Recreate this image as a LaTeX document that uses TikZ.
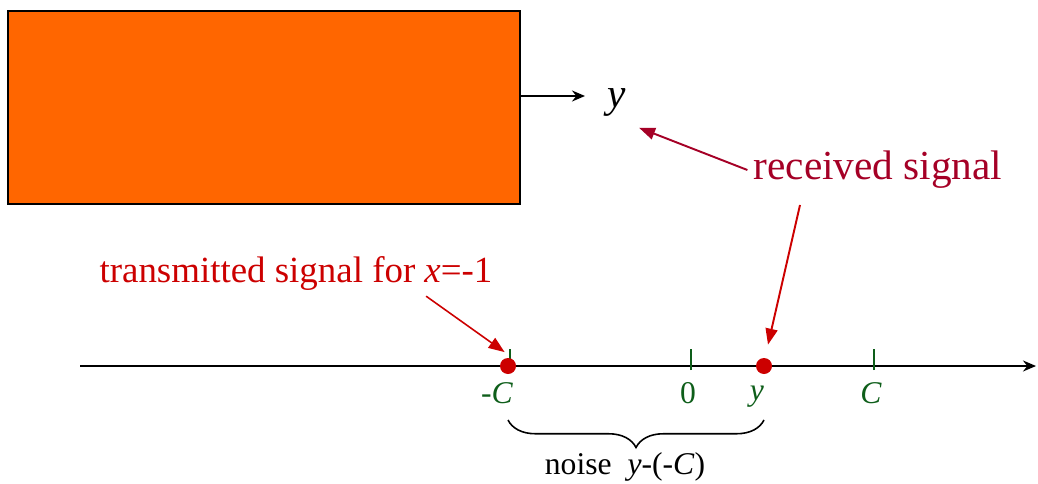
\documentclass[tikz,border=0pt]{standalone}
\usepackage{fontspec}
\setmainfont{Liberation Serif}
\usepackage{tikz}
\usetikzlibrary{arrows.meta,positioning,decorations.pathreplacing,calc}
\definecolor{chanorange}{HTML}{FF6600}
\definecolor{sentred}{HTML}{CC0000}
\definecolor{recvred}{HTML}{A50026}
\definecolor{tickgreen}{HTML}{0E5E1A}
\newcommand{\recvsize}{\fontsize{23.5}{28}\selectfont}
\newcommand{\sentsize}{\fontsize{21}{25}\selectfont}
\newcommand{\axsize}{\fontsize{18}{22}\selectfont}

\begin{document}
\begin{tikzpicture}[>={Stealth[length=2.6mm,width=2.2mm]},
  sigarrow/.style={-{Triangle[length=3.2mm,width=2.4mm]}, line width=1.1pt},
  ticklab/.style={font=\axsize, text=tickgreen, inner sep=0pt}]
\useasboundingbox (0,0) rectangle (20.76,9.66);
% channel block and its output
\node[draw=black, line width=0.9pt, fill=chanorange, minimum width=10.24cm, minimum height=3.86cm, inner sep=0pt] (chan) at (5.28,7.51) {};
\node[font=\recvsize, inner sep=0pt, anchor=west] (yout) at (12.14,7.62) {\textit{y}};
\draw[->, line width=1pt] ([yshift=2.3mm]chan.east) -- ([xshift=-4.4mm,yshift=1.2mm]yout.west);
% received signal
\node[font=\recvsize, text=recvred] (recv) at (17.56,6.26) {received signal};
\draw[sigarrow, draw=recvred, fill=recvred] (recv.west) -- ([xshift=2.6mm,yshift=-2.3mm]yout.south east);
% number line
\coordinate (axl) at (1.6,2.34);
\coordinate (axr) at (20.72,2.34);
\draw[->, line width=1.1pt] (axl) -- (axr);
\foreach \x/\lx/\lab in {10.2/9.94/{-\textit{C}}, 13.82/13.76/0, 17.48/17.42/{\textit{C}}}{
  \draw[tickgreen, line width=1pt] (\x,2.26) -- (\x,2.68);
  \node[ticklab] at (\lx,1.8) {\lab};
}
\node[ticklab] (ylab) at (15.14,1.72) {\textit{y}};
% signal points
\node[circle, fill=sentred, inner sep=0pt, minimum size=0.32cm] (cdot) at (10.16,2.34) {};
\node[circle, fill=sentred, inner sep=0pt, minimum size=0.32cm] (ydot) at (15.28,2.34) {};
\draw[sigarrow, draw=sentred, fill=sentred] ([xshift=-15.6mm,yshift=-2mm]recv.south) -- ([xshift=0.8mm,yshift=2.6mm]ydot.north);
% transmitted signal
\node[font=\sentsize, text=sentred] (sent) at (5.92,4.2) {transmitted signal for \textit{x}=-1};
\draw[sigarrow, draw=sentred, fill=sentred, line width=0.9pt] ([xshift=-14.5mm]sent.south east) -- ([xshift=0.5mm,yshift=1.6mm]cdot.north west);
% noise brace
\draw[decorate, decoration={brace, mirror, amplitude=0.55cm}, line width=0.9pt] ($(cdot)+(0,-1.08)$) -- ($(ydot)+(0,-1.08)$);
\node[font=\axsize] (noise) at (12.5,0.32) {noise\hspace{0.5em}\textit{y}-(-\textit{C})};
\end{tikzpicture}
\end{document}
